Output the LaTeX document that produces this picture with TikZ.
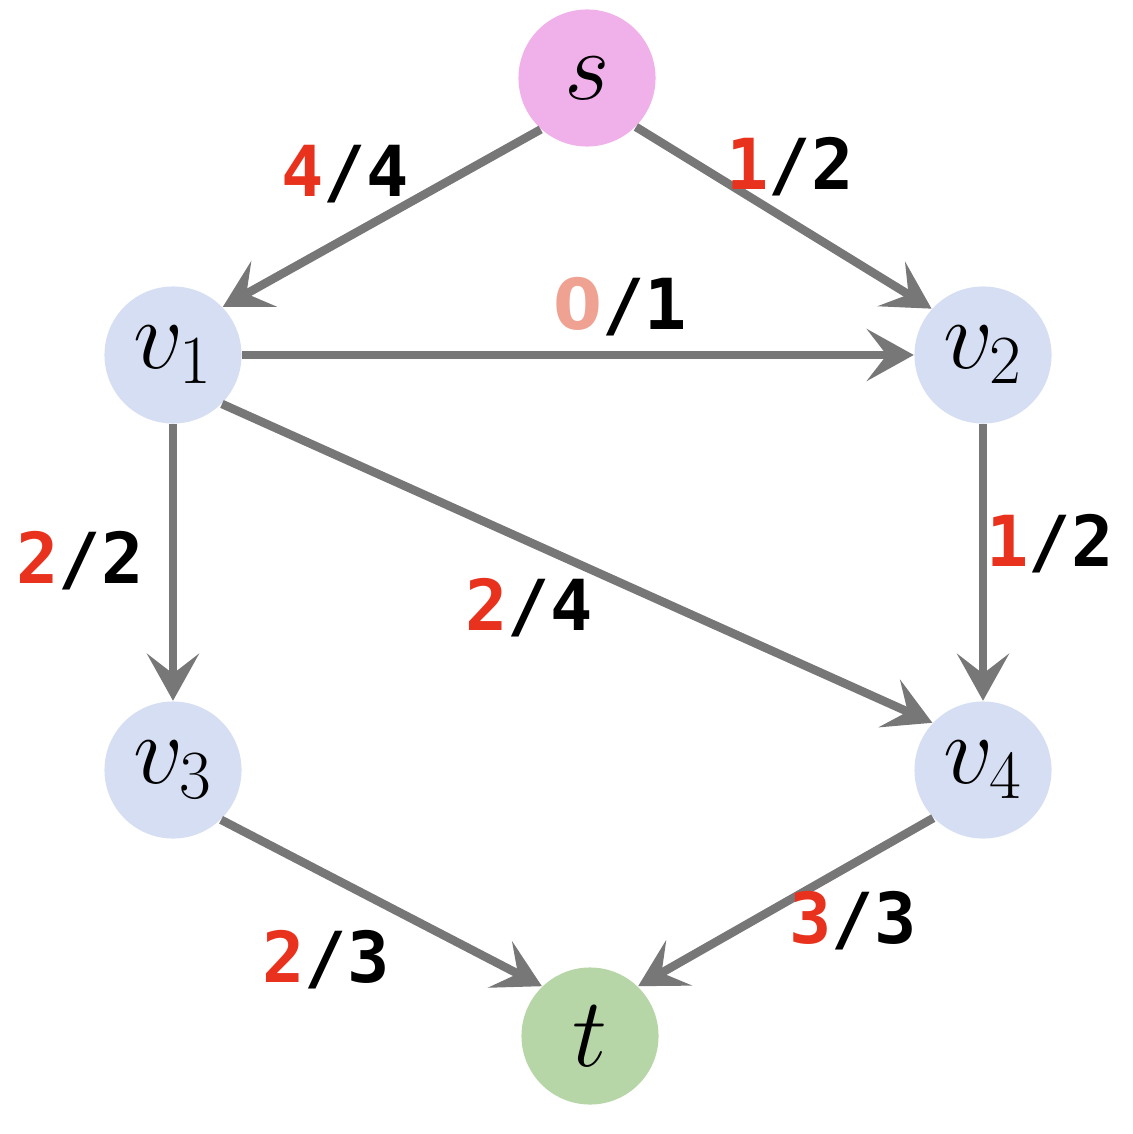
\documentclass[tikz,border=0pt]{standalone}
\usepackage{fix-cm}
\usepackage{fontspec}
\newfontfamily\flowfont{DejaVu Sans Mono}
\newfontfamily\zerofont{DejaVu Sans}
\usetikzlibrary{arrows.meta}
\definecolor{srcpink}{HTML}{F0B1EB}
\definecolor{vtxblue}{HTML}{D5DEF2}
\definecolor{sinkgreen}{HTML}{B7D6A8}
\definecolor{edgegray}{HTML}{777777}
\definecolor{flowred}{HTML}{E8321E}
\definecolor{flowlight}{HTML}{F0A292}
\newcommand{\flow}[3][flowred]{\textcolor{#1}{#2}/#3}

\begin{document}
\begin{tikzpicture}[
    x=0.01cm, y=-0.01cm,
    vertex/.style={circle, minimum size=1.37cm, inner sep=0pt, fill=vtxblue, font=\fontsize{28}{28}\selectfont},
    flowlbl/.style={anchor=base, inner sep=0pt, font=\flowfont\bfseries\fontsize{20}{20}\selectfont},
    arr/.style={-{Stealth[length=0.47cm, width=0.52cm, inset=0.2cm]}, line width=0.085cm, draw=edgegray}
]
\useasboundingbox (0,0) rectangle (1132,1134);

\node[vertex, fill=srcpink] (s) at (587,78) {$s$};
\node[vertex] (v1) at (173,355) {$v_1$};
\node[vertex] (v2) at (983,355) {$v_2$};
\node[vertex] (v3) at (173,770) {$v_3$};
\node[vertex] (v4) at (983,770) {$v_4$};
\node[vertex, fill=sinkgreen] (t) at (590,1036) {$t$};

\draw[arr] (s.228) -- (v1.44);
\draw[arr] (s.315) -- (v2.138);
\draw[arr] (v1.0) -- (v2.180);
\draw[arr] (v1.270) -- (v3.90);
\draw[arr] (v1.315) -- (v4.137);
\draw[arr] (v2.270) -- (v4.90);
\draw[arr] (v3.314) -- (t.134);
\draw[arr] (v4.224) -- (t.46);

\node[flowlbl] (f-sv1) at (345,197) {\flow{4}{4}};
\node[flowlbl] (f-sv2) at (790,190) {\flow{1}{2}};
\node[flowlbl] (f-v1v2) at (620,330) {\flow[flowlight]{{\zerofont\bfseries 0}}{1}};
\node[flowlbl] (f-v1v3) at (80,583) {\flow{2}{2}};
\node[flowlbl] (f-v1v4) at (529,630) {\flow{2}{4}};
\node[flowlbl] (f-v2v4) at (1050,567) {\flow{1}{2}};
\node[flowlbl] (f-v3t) at (326,982) {\flow{2}{3}};
\node[flowlbl] (f-v4t) at (853,943) {\flow{3}{3}};
\end{tikzpicture}
\end{document}
